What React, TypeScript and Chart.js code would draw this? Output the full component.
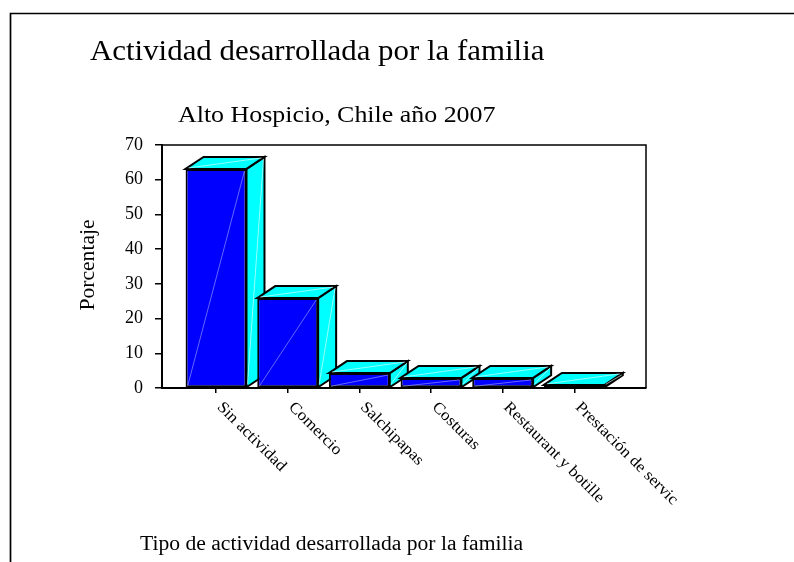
import React, { useEffect, useRef } from "react";
import { Chart, registerables } from "chart.js";

Chart.register(...registerables);

const TITLE = "Actividad desarrollada por la familia";
const SUBTITLE = "Alto Hospicio, Chile año 2007";
const Y_TITLE = "Porcentaje";
const X_TITLE = "Tipo de actividad desarrollada por la familia";
const categories = [
  "Sin actividad",
  "Comercio",
  "Salchipapas",
  "Costuras",
  "Restaurant y botille",
  "Prestación de servic",
];
const values = [63.1, 25.9, 4.3, 2.9, 2.9, 0.9];
const yTicks = [0, 10, 20, 30, 40, 50, 60, 70];

const FONT = "'Liberation Serif', 'Times New Roman', serif";
const HS = 1.08;
const DX = 18;
const DY = -12;

function drawText(
  ctx: CanvasRenderingContext2D,
  text: string,
  x: number,
  y: number,
  size: number,
  rot: number,
  align: CanvasTextAlign,
  baseline: CanvasTextBaseline
) {
  ctx.save();
  ctx.translate(x, y);
  ctx.rotate(rot);
  ctx.scale(HS, 1);
  ctx.font = `${size}px ${FONT}`;
  ctx.fillStyle = "#000";
  ctx.textAlign = align;
  ctx.textBaseline = baseline;
  ctx.fillText(text, 0, 0);
  ctx.restore();
}

const depthPlugin = {
  id: "depth3d",
  beforeDraw(chart: any) {
    const ctx = chart.ctx as CanvasRenderingContext2D;
    ctx.save();
    ctx.fillStyle = "#fff";
    ctx.fillRect(0, 0, chart.width, chart.height);
    ctx.strokeStyle = "#000";
    ctx.lineWidth = 1.7;
    ctx.beginPath();
    ctx.moveTo(10.5, chart.height);
    ctx.lineTo(10.5, 13.5);
    ctx.lineTo(chart.width, 13.5);
    ctx.stroke();
    ctx.restore();
  },
  beforeDatasetsDraw(chart: any) {
    const ctx = chart.ctx as CanvasRenderingContext2D;
    const a = chart.chartArea;
    ctx.save();
    ctx.strokeStyle = "#000";
    ctx.lineWidth = 1.5;
    ctx.beginPath();
    ctx.moveTo(a.left, a.top);
    ctx.lineTo(a.right, a.top);
    ctx.lineTo(a.right, a.bottom);
    ctx.stroke();

    const meta = chart.getDatasetMeta(0);
    ctx.lineWidth = 2;
    ctx.lineJoin = "miter";
    meta.data.forEach((bar: any) => {
      const { x, y, base, width } = bar.getProps(["x", "y", "base", "width"], true);
      const l = x - width / 2;
      const r = x + width / 2;
      ctx.fillStyle = "#00FFFF";
      ctx.beginPath();
      ctx.moveTo(r, base);
      ctx.lineTo(r + DX, base + DY);
      ctx.lineTo(r + DX, y + DY);
      ctx.lineTo(r, y);
      ctx.closePath();
      ctx.fill();
      ctx.stroke();
      ctx.beginPath();
      ctx.moveTo(l, y);
      ctx.lineTo(l + DX, y + DY);
      ctx.lineTo(r + DX, y + DY);
      ctx.lineTo(r, y);
      ctx.closePath();
      ctx.fill();
      ctx.stroke();
      ctx.save();
      ctx.strokeStyle = "rgba(235,255,255,0.9)";
      ctx.lineWidth = 0.7;
      ctx.beginPath();
      ctx.moveTo(r + DX - 1, y + DY + 2);
      ctx.lineTo(r + 1, base - 3);
      ctx.moveTo(l + 3, y - 1);
      ctx.lineTo(r + DX - 3, y + DY + 1);
      ctx.stroke();
      ctx.restore();
    });
    ctx.restore();
  },
  afterDatasetsDraw(chart: any) {
    const ctx = chart.ctx as CanvasRenderingContext2D;
    const meta = chart.getDatasetMeta(0);
    ctx.save();
    ctx.strokeStyle = "rgba(170,170,255,0.85)";
    ctx.lineWidth = 0.7;
    meta.data.forEach((bar: any) => {
      const { x, y, base, width } = bar.getProps(["x", "y", "base", "width"], true);
      const l = x - width / 2;
      const r = x + width / 2;
      if (base - y > 4) {
        ctx.beginPath();
        ctx.moveTo(l + 2, base - 1);
        ctx.lineTo(r - 2, y + 2);
        ctx.stroke();
      }
    });
    ctx.restore();
  },
  afterDraw(chart: any) {
    const ctx = chart.ctx as CanvasRenderingContext2D;
    const xs = chart.scales.x;
    drawText(ctx, TITLE, 90, 60, 28.6, 0, "left", "alphabetic");
    drawText(ctx, SUBTITLE, 178, 122, 24, 0, "left", "alphabetic");
    drawText(ctx, Y_TITLE, 89, 265, 20, -Math.PI / 2, "center", "middle");
    drawText(ctx, X_TITLE, 140, 550, 20, 0, "left", "alphabetic");
    categories.forEach((c, i) => {
      const px = xs.getPixelForValue(i);
      drawText(ctx, c, px + 9, 399, 16, Math.PI / 4, "left", "top");
    });
  },
};

export default function App() {
  const ref = useRef<HTMLCanvasElement | null>(null);
  useEffect(() => {
    if (!ref.current) return;
    const chart = new Chart(ref.current, {
      type: "bar",
      data: {
        datasets: [
          {
            data: values.map((v, i) => ({ x: i, y: v })),
            backgroundColor: "#0000FF",
            borderColor: "#000",
            borderWidth: 2,
            borderSkipped: false,
            categoryPercentage: 1,
            barPercentage: 0.85,
          } as any,
        ],
      },
      options: {
        responsive: false,
        animation: false,
        events: [],
        layout: { padding: { top: 145, right: 148, left: 0, bottom: 0 } },
        plugins: {
          legend: { display: false },
          tooltip: { enabled: false },
          title: { display: false },
        },
        scales: {
          x: {
            type: "linear",
            offset: false,
            bounds: "data",
            grace: 0,
            min: -0.754,
            max: 6.0,
            afterBuildTicks: (s: any) => {
              s.ticks = categories.map((_, i) => ({ value: i }));
            },
            afterFit: (s: any) => {
              s.height = 174;
            },
            grid: {
              offset: false,
              drawOnChartArea: false,
              drawTicks: true,
              tickLength: 5,
              color: "#000",
              lineWidth: 1.5,
            },
            border: { display: true, color: "#000", width: 2 },
            ticks: { display: false },
          },
          y: {
            min: 0,
            max: 70,
            afterBuildTicks: (s: any) => {
              s.ticks = yTicks.map((v) => ({ value: v }));
            },
            afterFit: (s: any) => {
              s.width = 162;
            },
            grid: {
              drawOnChartArea: false,
              drawTicks: true,
              tickLength: 7,
              color: "#000",
              lineWidth: 1.5,
            },
            border: { display: true, color: "#000", width: 2 },
            ticks: {
              color: "#000",
              padding: 12,
              font: { family: FONT, size: 18 },
            },
          },
        } as any,
      },
      plugins: [depthPlugin],
    });
    return () => chart.destroy();
  }, []);
  return (
    <div style={{ position: "absolute", left: 0, top: 0, width: 794, height: 562 }}>
      <canvas ref={ref} width={794} height={562} style={{ display: "block" }} />
    </div>
  );
}
